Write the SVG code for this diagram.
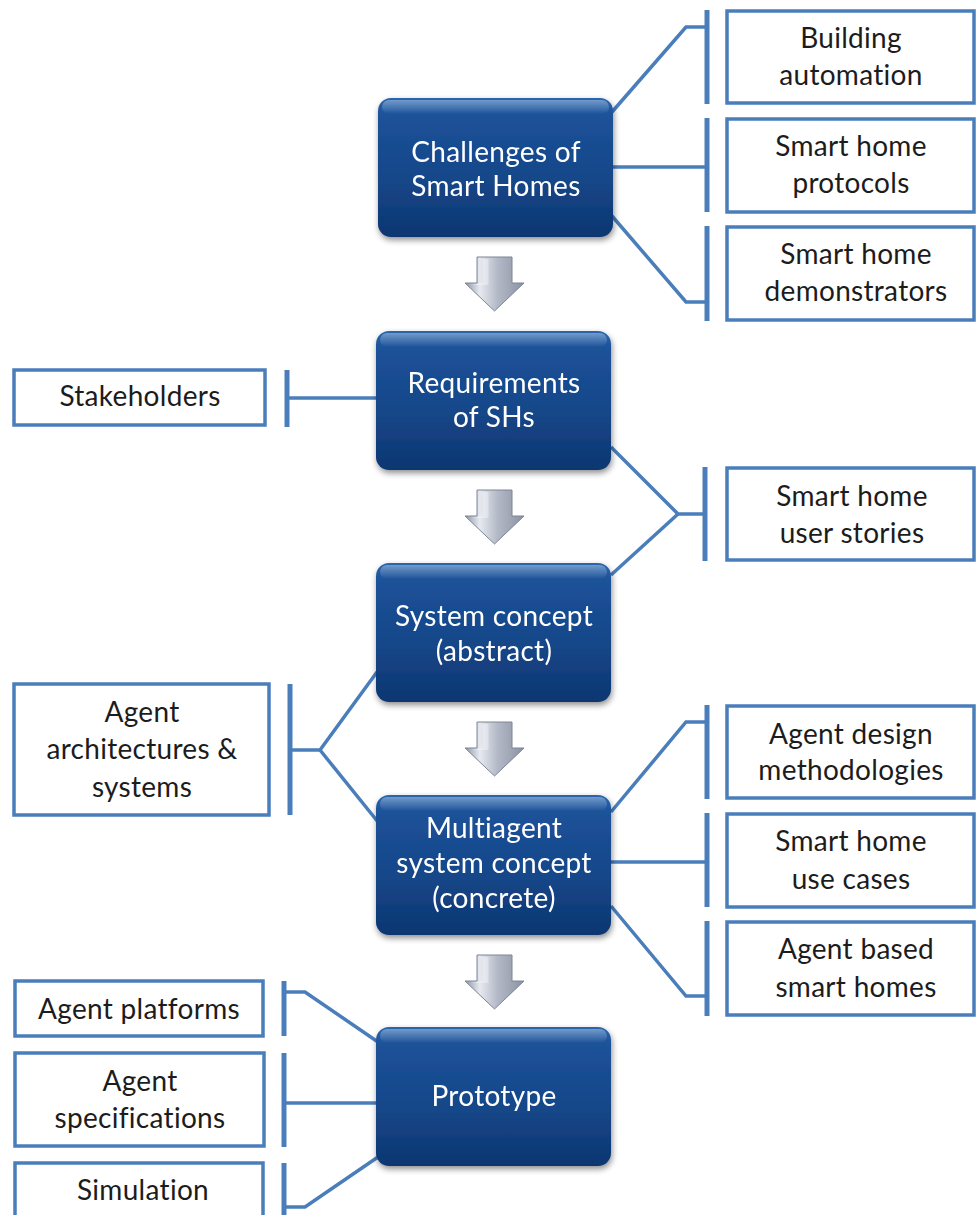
<svg xmlns="http://www.w3.org/2000/svg" width="976" height="1215" viewBox="0 0 976 1215">
  <defs>
    <linearGradient id="stepFill" x1="0" y1="0" x2="0" y2="1">
      <stop offset="0" stop-color="#2a66b0"/>
      <stop offset="0.12" stop-color="#1c5299"/>
      <stop offset="0.6" stop-color="#154688"/>
      <stop offset="1" stop-color="#0d3670"/>
    </linearGradient>
    <linearGradient id="stepShine" x1="0" y1="0" x2="0" y2="1">
      <stop offset="0" stop-color="#ffffff" stop-opacity="0.35"/>
      <stop offset="1" stop-color="#ffffff" stop-opacity="0"/>
    </linearGradient>
    <linearGradient id="arrowFill" x1="0" y1="0" x2="1" y2="0">
      <stop offset="0" stop-color="#8d95a6"/>
      <stop offset="0.25" stop-color="#e6e9f0"/>
      <stop offset="0.55" stop-color="#b3b9c6"/>
      <stop offset="1" stop-color="#8a92a3"/>
    </linearGradient>
    <filter id="shadow" x="-10%" y="-10%" width="125%" height="130%">
      <feGaussianBlur in="SourceAlpha" stdDeviation="3"/>
      <feOffset dx="1" dy="3"/>
      <feComponentTransfer><feFuncA type="linear" slope="0.45"/></feComponentTransfer>
      <feMerge><feMergeNode/><feMergeNode in="SourceGraphic"/></feMerge>
    </filter>
    <g id="downArrow">
      <polygon points="-17.5,0 17.5,0 17.5,26 29.5,26 0,54 -29.5,26 -17.5,26" fill="url(#arrowFill)" stroke="#7d8596" stroke-width="1"/>
      <polygon points="-12,2 -6,2 -6,28 -17,28 -24,28 -12,26" fill="#ffffff" fill-opacity="0.35"/>
    </g>
  </defs>
  <style>
    text { font-family: Lato, "Liberation Sans", sans-serif; font-size: 28px; letter-spacing: 0.3px; text-anchor: middle; font-variant-ligatures: none; }
    .step rect.body { fill: url(#stepFill); }
    .step rect.shine { fill: url(#stepShine); }
    .step text { fill: #ffffff; }
    .topic rect { fill: #ffffff; stroke: #4a7ebb; stroke-width: 3.5; }
    .topic text { fill: #1c1c1c; }
    .links path { fill: none; stroke: #4a7ebb; stroke-width: 3.5; stroke-linejoin: miter; }
    .links line { stroke: #4a7ebb; stroke-width: 5; }
  </style>

  <rect width="976" height="1215" fill="#ffffff"/>

  <!-- connectors: branch lines and brackets -->
  <g id="connectors" class="links">
    <!-- Challenges of Smart Homes -->
    <path d="M612,112 L686,27 L707,27"/>
    <path d="M612,167 L707,167"/>
    <path d="M612,216 L686,302 L707,302"/>
    <line x1="707" y1="10" x2="707" y2="104"/>
    <line x1="707" y1="118" x2="707" y2="212"/>
    <line x1="707" y1="226" x2="707" y2="321"/>
    <!-- Requirements -->
    <path d="M378,398 L287,398"/>
    <line x1="287" y1="370" x2="287" y2="427"/>
    <!-- Requirements + System concept -> user stories -->
    <path d="M611,447 L678,514 L705,514"/>
    <path d="M611,575 L678,514"/>
    <line x1="705" y1="467" x2="705" y2="561"/>
    <!-- System concept + Multiagent -> architectures -->
    <path d="M377,672 L320,750 L290,750"/>
    <path d="M378,822 L320,750"/>
    <line x1="290" y1="684" x2="290" y2="815"/>
    <!-- Multiagent system concept -->
    <path d="M611,812 L686,722 L707,722"/>
    <path d="M611,862 L707,862"/>
    <path d="M611,906 L686,996 L707,996"/>
    <line x1="707" y1="705" x2="707" y2="799"/>
    <line x1="707" y1="813" x2="707" y2="907"/>
    <line x1="707" y1="921" x2="707" y2="1016"/>
    <!-- Prototype -->
    <path d="M378,1042 L305,992 L284,992"/>
    <path d="M378,1103 L284,1103"/>
    <path d="M378,1157 L305,1207 L284,1207"/>
    <line x1="284" y1="981" x2="284" y2="1036"/>
    <line x1="284" y1="1053" x2="284" y2="1147"/>
    <line x1="284" y1="1163" x2="284" y2="1215"/>
  </g>

  <!-- process steps -->
  <g id="step-challenges" class="step" filter="url(#shadow)">
    <rect class="body" x="378" y="98" width="235" height="139" rx="13"/>
    <rect class="shine" x="382" y="100" width="227" height="14" rx="7"/>
    <text x="496" y="162">Challenges of</text>
    <text x="496" y="196">Smart Homes</text>
  </g>
  <g id="step-requirements" class="step" filter="url(#shadow)">
    <rect class="body" x="376" y="331" width="235" height="139" rx="13"/>
    <rect class="shine" x="380" y="333" width="227" height="14" rx="7"/>
    <text x="494" y="393">Requirements</text>
    <text x="494" y="427">of SHs</text>
  </g>
  <g id="step-system" class="step" filter="url(#shadow)">
    <rect class="body" x="376" y="563" width="235" height="139" rx="13"/>
    <rect class="shine" x="380" y="565" width="227" height="14" rx="7"/>
    <text x="494" y="626">System concept</text>
    <text x="494" y="661">(abstract)</text>
  </g>
  <g id="step-multiagent" class="step" filter="url(#shadow)">
    <rect class="body" x="376" y="795" width="235" height="140" rx="13"/>
    <rect class="shine" x="380" y="797" width="227" height="14" rx="7"/>
    <text x="494" y="838">Multiagent</text>
    <text x="494" y="873">system concept</text>
    <text x="494" y="908">(concrete)</text>
  </g>
  <g id="step-prototype" class="step" filter="url(#shadow)">
    <rect class="body" x="376" y="1027" width="235" height="139" rx="13"/>
    <rect class="shine" x="380" y="1029" width="227" height="14" rx="7"/>
    <text x="494" y="1106">Prototype</text>
  </g>

  <!-- flow arrows between steps -->
  <g id="flow-arrows">
    <use href="#downArrow" x="494.5" y="257"/>
    <use href="#downArrow" x="494.5" y="490"/>
    <use href="#downArrow" x="494.5" y="722"/>
    <use href="#downArrow" x="494.5" y="955"/>
  </g>

  <!-- related topics -->
  <g id="topic-building" class="topic">
    <rect x="727" y="11" width="247" height="92"/>
    <text x="851" y="48">Building</text>
    <text x="851" y="85">automation</text>
  </g>
  <g id="topic-protocols" class="topic">
    <rect x="727" y="119" width="247" height="93"/>
    <text x="851" y="156">Smart home</text>
    <text x="851" y="193">protocols</text>
  </g>
  <g id="topic-demonstrators" class="topic">
    <rect x="727" y="227" width="247" height="93"/>
    <text x="856" y="264">Smart home</text>
    <text x="856" y="301">demonstrators</text>
  </g>
  <g id="topic-stakeholders" class="topic">
    <rect x="14" y="370" width="251" height="55"/>
    <text x="140" y="406">Stakeholders</text>
  </g>
  <g id="topic-userstories" class="topic">
    <rect x="727" y="468" width="247" height="92"/>
    <text x="852" y="506">Smart home</text>
    <text x="852" y="543">user stories</text>
  </g>
  <g id="topic-architectures" class="topic">
    <rect x="14" y="684" width="255" height="131"/>
    <text x="142" y="722">Agent</text>
    <text x="142" y="759">architectures &amp;</text>
    <text x="142" y="797">systems</text>
  </g>
  <g id="topic-methodologies" class="topic">
    <rect x="727" y="706" width="247" height="92"/>
    <text x="851" y="744">Agent design</text>
    <text x="851" y="780">methodologies</text>
  </g>
  <g id="topic-usecases" class="topic">
    <rect x="727" y="814" width="247" height="93"/>
    <text x="851" y="851">Smart home</text>
    <text x="851" y="889">use cases</text>
  </g>
  <g id="topic-agentbased" class="topic">
    <rect x="727" y="922" width="247" height="93"/>
    <text x="856" y="959">Agent based</text>
    <text x="856" y="997">smart homes</text>
  </g>
  <g id="topic-platforms" class="topic">
    <rect x="15" y="981" width="248" height="55"/>
    <text x="139" y="1019">Agent platforms</text>
  </g>
  <g id="topic-specifications" class="topic">
    <rect x="15" y="1053" width="249" height="93"/>
    <text x="140" y="1091">Agent</text>
    <text x="140" y="1128">specifications</text>
  </g>
  <g id="topic-simulation" class="topic">
    <rect x="15" y="1163" width="248" height="60"/>
    <text x="143" y="1200">Simulation</text>
  </g>
</svg>
